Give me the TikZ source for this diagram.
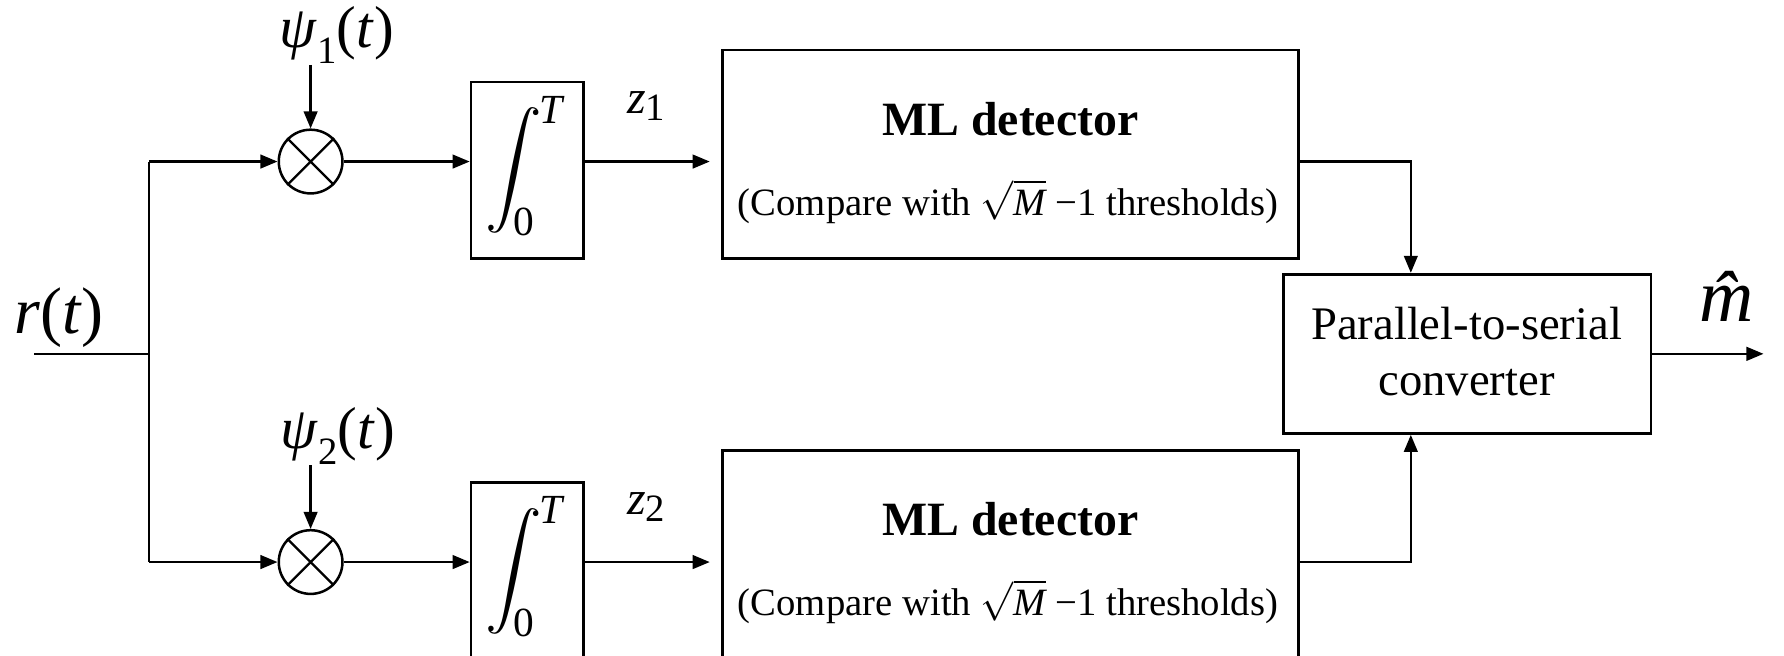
\documentclass[tikz,border=0pt]{standalone}
\usepackage{amsmath}
\usepackage{fontspec}
\setmainfont{Liberation Serif}
\usetikzlibrary{arrows.meta}
\newcommand{\integ}{\fontsize{26}{26}\selectfont$\displaystyle\int_{\hspace{-1.5pt}\text{0}}^{\hspace{-1.5pt}\textit{T}}$}
\begin{document}
\begin{tikzpicture}[x=0.5pt,y=-0.5pt,
  line width=1pt,
  >={Triangle[length=7.5pt,width=6pt]},
  blk/.style={draw,line width=1.2pt,inner sep=0pt},
  mult/.style={draw,circle,line width=1.1pt,minimum size=28pt,inner sep=0pt},
  lbl/.style={inner sep=0pt},
  big/.style={font=\fontsize{26}{26}\selectfont},
]
\useasboundingbox (0,0) rectangle (1568,576);

% input and branching
\node[lbl,anchor=base,font=\fontsize{29}{29}\selectfont] (rlab) at (52,293) {\textit{r}(\textit{t})};
\coordinate (rin) at (30,311);
\coordinate (split) at (131,311);

% multipliers
\node[mult] (m1) at (273,142) {};
\node[mult] (m2) at (273,494) {};
\draw (m1.north west) -- (m1.south east) (m1.north east) -- (m1.south west);
\draw (m2.north west) -- (m2.south east) (m2.north east) -- (m2.south west);

\draw (rin) -- (split);
\draw (split |- m1) -- (split |- m2);
\draw[->] (split |- m1) -- (m1);
\draw[->] (split |- m2) -- (m2);

% basis functions
\node[lbl,anchor=base,big] (psi1) at (296,42)
  {\textit{ψ}\raisebox{-7pt}{\fontsize{17}{17}\selectfont 1}(\textit{t})};
\node[lbl,anchor=base,big] (psi2) at (297,394)
  {\textit{ψ}\raisebox{-7pt}{\fontsize{17}{17}\selectfont 2}(\textit{t})};
\coordinate (p1) at (273,57);
\coordinate (p2) at (273,409);
\draw[->] (p1) -- (m1);
\draw[->] (p2) -- (m2);

% integrators
\node[blk,minimum width=49.5pt,minimum height=77.5pt] (int1) at (463.5,149.5) {};
\node[blk,minimum width=49.5pt,minimum height=77.5pt] (int2) at (463.5,501.5) {};
\node[lbl] (int1s) at (461,146) {\integ};
\node[lbl] (int2s) at (461,498) {\integ};
\draw[->] (m1) -- (int1.west |- m1);
\draw[->] (m2) -- (int2.west |- m2);

% ML detectors
\node[blk,minimum width=253pt,minimum height=91.5pt] (ml1) at (888,135.5) {};
\node[blk,minimum width=253pt,minimum height=91.5pt] (ml2) at (888,487.5) {};
\draw[->,shorten >=5pt] (int1.east |- m1) -- (ml1.west |- m1);
\draw[->,shorten >=5pt] (int2.east |- m2) -- (ml2.west |- m2);

\node[lbl,anchor=base,font=\fontsize{21}{21}\selectfont] (z1) at (568,100)
  {\textit{z}\raisebox{-3pt}{\fontsize{17}{17}\selectfont 1}};
\node[lbl,anchor=base,font=\fontsize{21}{21}\selectfont] (z2) at (568,452)
  {\textit{z}\raisebox{-3pt}{\fontsize{17}{17}\selectfont 2}};

\node[lbl,anchor=base,font=\fontsize{21}{21}\selectfont\bfseries] (ml1a) at (888,119) {ML detector};
\node[lbl,anchor=base,font=\fontsize{17}{17}\selectfont] (ml1b) at (886,189)
  {(Compare with $\sqrt{\textit{M}}$ −1 thresholds)};
\node[lbl,anchor=base,font=\fontsize{21}{21}\selectfont\bfseries] (ml2a) at (888,471) {ML detector};
\node[lbl,anchor=base,font=\fontsize{17}{17}\selectfont] (ml2b) at (886,541)
  {(Compare with $\sqrt{\textit{M}}$ −1 thresholds)};

% parallel-to-serial converter
\node[blk,minimum width=161.5pt,minimum height=70pt] (ps) at (1289.5,311) {};
\node[lbl,anchor=base,font=\fontsize{20.5}{20}\selectfont] (ps1) at (1289,298) {Parallel-to-serial};
\node[lbl,anchor=base,font=\fontsize{20.5}{20}\selectfont] (ps2) at (1289,348) {converter};
\coordinate (j) at (1240,311);
\draw[->] (ml1.east |- m1) -| (ps.north -| j);
\draw[->] (ml2.east |- m2) -| (ps.south -| j);

% output
\coordinate (out) at (1550,311);
\draw[->] (ps) -- (out);
\node[lbl,anchor=base,font=\fontsize{33}{33}\selectfont] (mhat) at (1530,283)
  {\textit{\^{m}}};
\end{tikzpicture}
\end{document}
